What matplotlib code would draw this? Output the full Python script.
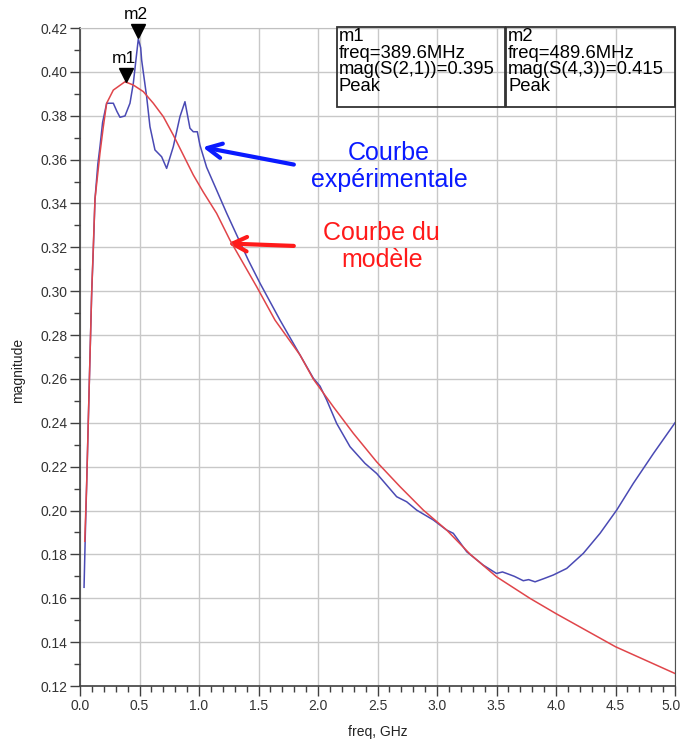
import matplotlib
matplotlib.use("Agg")
import matplotlib.pyplot as plt
from matplotlib.patches import Rectangle
from matplotlib.transforms import offset_copy, ScaledTranslation
from matplotlib.ticker import MultipleLocator, FormatStrFormatter

plt.rcParams['font.family'] = ['Liberation Sans', 'DejaVu Sans']

# Experimental curve (blue)
freq_exp = [0.034, 0.045, 0.056, 0.078, 0.098, 0.112, 0.126, 0.15, 0.168, 0.19, 0.224, 0.28,
            0.31, 0.336, 0.378, 0.42, 0.448, 0.47, 0.49, 0.51, 0.518, 0.56, 0.588, 0.63,
            0.686, 0.728, 0.784, 0.84, 0.882, 0.924, 0.952, 0.986, 1.008, 1.064, 1.148, 1.233,
            1.317, 1.414, 1.513, 1.681, 1.849, 1.961, 2.017, 2.073, 2.157, 2.269, 2.395, 2.493,
            2.577, 2.661, 2.745, 2.829, 2.969, 3.081, 3.137, 3.25, 3.389, 3.50, 3.55, 3.586,
            3.65, 3.725, 3.77, 3.824, 3.9, 3.977, 4.09, 4.23, 4.37, 4.51, 4.65, 4.82, 5.0]
mag_exp = [0.165, 0.19, 0.212, 0.258, 0.299, 0.319, 0.342, 0.358, 0.366, 0.377, 0.3857, 0.3857,
           0.382, 0.3793, 0.3799, 0.3857, 0.3948, 0.4054, 0.415, 0.411, 0.4054, 0.3887, 0.375,
           0.3644, 0.3613, 0.356, 0.3659, 0.3796, 0.3864, 0.3743, 0.3727, 0.3727, 0.3666,
           0.3565, 0.3461, 0.3355, 0.3256, 0.3142, 0.3036, 0.2868, 0.2709, 0.2603, 0.2567,
           0.2504, 0.2397, 0.2291, 0.2215, 0.2169, 0.2116, 0.2063, 0.204, 0.2002, 0.1957,
           0.1911, 0.1896, 0.1812, 0.1751, 0.1713, 0.172, 0.1713, 0.170, 0.168, 0.1685,
           0.1675, 0.169, 0.1706, 0.1736, 0.1805, 0.1896, 0.2002, 0.2124, 0.2261, 0.240]

# Model curve (red)
freq_mod = [0.04, 0.056, 0.078, 0.098, 0.126, 0.168, 0.196, 0.224, 0.28, 0.378, 0.448, 0.532,
            0.616, 0.70, 0.784, 0.868, 0.952, 1.036, 1.148, 1.26, 1.372, 1.485, 1.639, 1.849,
            1.961, 2.129, 2.297, 2.493, 2.689, 2.885, 3.081, 3.28, 3.5, 3.78, 4.0, 4.5, 5.0]
mag_mod = [0.186, 0.212, 0.258, 0.299, 0.342, 0.363, 0.375, 0.3857, 0.3917, 0.3955, 0.394,
           0.391, 0.3857, 0.3796, 0.3712, 0.3621, 0.353, 0.3452, 0.3355, 0.3233, 0.3127,
           0.302, 0.2868, 0.2709, 0.2599, 0.2473, 0.2352, 0.2222, 0.2109, 0.2002, 0.1911,
           0.18, 0.1698, 0.16, 0.153, 0.1379, 0.1257]

x_ticks = [0.0, 0.5, 1.0, 1.5, 2.0, 2.5, 3.0, 3.5, 4.0, 4.5, 5.0]
x_tick_labels = ["0.0", "0.5", "1.0", "1.5", "2.0", "2.5", "3.0", "3.5", "4.0", "4.5", "5.0"]

markers = ["m1", "m2"]
marker_freq = [0.3896, 0.4896]
marker_mag = [0.395, 0.415]
marker_text = ["m1\nfreq=389.6MHz\nmag(S(2,1))=0.395\nPeak",
               "m2\nfreq=489.6MHz\nmag(S(4,3))=0.415\nPeak"]

W, H = 683, 743
fig = plt.figure(figsize=(W / 100, H / 100), dpi=100)
ax = fig.add_axes([80 / W, 57 / H, 595 / W, 658 / H])

ax.plot(freq_exp, mag_exp, color='#4a4ab4', lw=1.1, zorder=3)
ax.plot(freq_mod, mag_mod, color='#e0454a', lw=1.1, zorder=4)

ax.set_xlim(0, 5.0)
ax.set_ylim(0.12, 0.42)
ax.set_xticks(x_ticks, x_tick_labels)
ax.xaxis.set_minor_locator(MultipleLocator(0.1))
ax.yaxis.set_major_locator(MultipleLocator(0.02))
ax.yaxis.set_minor_locator(MultipleLocator(0.01))
ax.yaxis.set_major_formatter(FormatStrFormatter('%.2f'))
ax.grid(True, which='major', color='#c8c8c8', lw=1.0, zorder=0)
ax.tick_params(which='major', direction='out', length=7.5, width=1.0, color='#404040',
               labelsize=10, labelcolor='#333333', pad=1.5)
ax.tick_params(which='minor', direction='out', length=4, width=1.0, color='#404040')
for s in ['left', 'bottom']:
    ax.spines[s].set_color('#404040')
    ax.spines[s].set_linewidth(1.2)
ax.spines['right'].set_color('#505050')
ax.spines['top'].set_color('#c0c0c0')

# nudge the last x tick label so it stays inside the figure
last = ax.xaxis.get_major_ticks()[-1].label1
last.set_transform(last.get_transform() + ScaledTranslation(-4 / 100, 0, fig.dpi_scale_trans))

ax.set_xlabel('freq, GHz', fontsize=10, color='#222222', labelpad=9)
fig.text(18 / W, 1 - 370 / H, 'magnitude', rotation=90, fontsize=10, color='#222222',
         ha='center', va='center')

# Markers
for name, fx, fy in zip(markers, marker_freq, marker_mag):
    tri = offset_copy(ax.transData, fig=fig, x=0, y=5.5, units='points')
    ax.plot([fx], [fy], marker='v', color='black', markersize=10, transform=tri,
            zorder=6, clip_on=False)
    ax.annotate(name, xy=(fx, fy), xytext=(-1.5, 17.5), textcoords='offset points',
                ha='center', va='center', fontsize=12.5, color='black', zorder=6,
                annotation_clip=False)

# Marker tables
boxes = [(337, 27, 168, 80), (506, 27, 169, 80)]
for (bx, by, bw, bh), txt in zip(boxes, marker_text):
    fig.patches.append(Rectangle((bx / W, 1 - (by + bh) / H), bw / W, bh / H,
                                 transform=fig.transFigure, fill=False,
                                 edgecolor='#333333', lw=1.3, zorder=10))
    fig.text((bx + 2) / W, 1 - (by + 1) / H, txt, fontsize=13.3, ha='left', va='top',
             linespacing=0.98, color='black')

# Annotations
ax.annotate('', xy=(1.008, 0.3659), xytext=(1.82, 0.3575),
            arrowprops=dict(arrowstyle='->', color='#0a1aff', lw=3.0, mutation_scale=26))
ax.text(2.597, 0.3567, 'Courbe\nexpérimentale', color='#0a1aff', fontsize=18,
        ha='center', va='center', linespacing=1.15)
ax.annotate('', xy=(1.218, 0.3218), xytext=(1.82, 0.3206),
            arrowprops=dict(arrowstyle='->', color='#ff1a1a', lw=3.0, mutation_scale=26))
ax.text(2.535, 0.3202, 'Courbe du\nmodèle', color='#ff1a1a', fontsize=18,
        ha='center', va='center', linespacing=1.15)

fig.savefig('out.png', dpi=100, facecolor='white')
